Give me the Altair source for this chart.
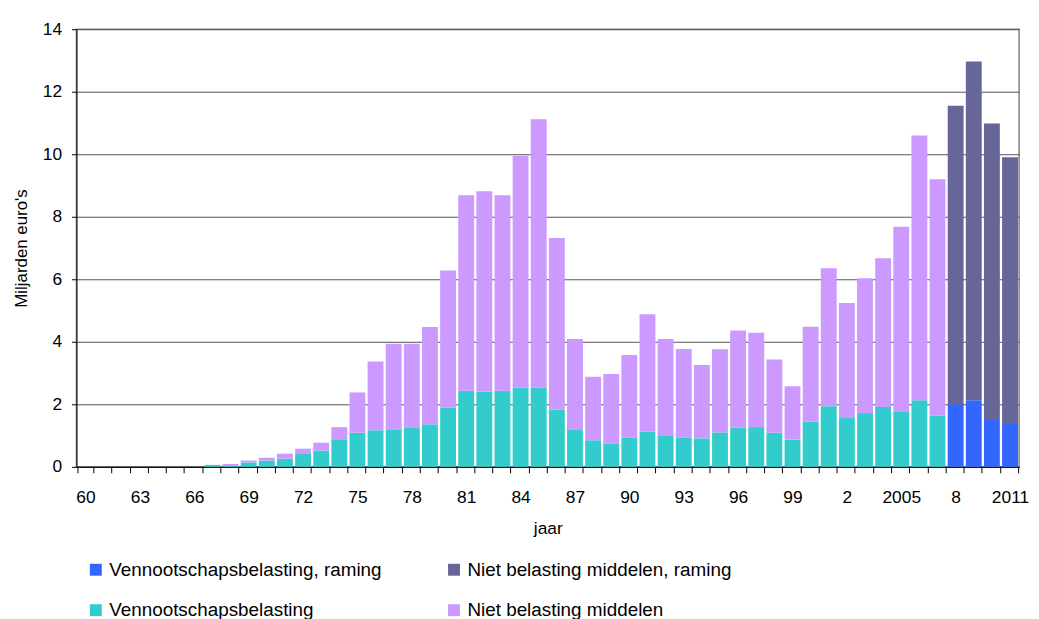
import altair as alt
import pandas as pd

years = list(range(1960, 2012))

# Vennootschapsbelasting (miljarden euro's)
vpb = [0, 0, 0, 0, 0, 0, 0, 0.06, 0.05, 0.14,
       0.20, 0.26, 0.41, 0.52, 0.86, 1.09, 1.17, 1.20, 1.24, 1.36,
       1.90, 2.43, 2.40, 2.43, 2.53, 2.53, 1.83, 1.20, 0.85, 0.75,
       0.94, 1.13, 1.01, 0.94, 0.91, 1.10, 1.25, 1.27, 1.09, 0.87,
       1.44, 1.94, 1.56, 1.72, 1.91, 1.75, 2.13, 1.63, 2.00, 2.13,
       1.50, 1.37]

# Niet belasting middelen (miljarden euro's)
nbm = [0, 0, 0, 0, 0, 0, 0, 0.00, 0.04, 0.06,
       0.09, 0.16, 0.17, 0.25, 0.41, 1.29, 2.20, 2.74, 2.70, 3.11,
       4.38, 6.26, 6.42, 6.26, 7.42, 8.59, 5.49, 2.89, 2.03, 2.22,
       2.64, 3.75, 3.08, 2.83, 2.35, 2.66, 3.11, 3.02, 2.34, 1.71,
       3.04, 4.41, 3.68, 4.31, 4.76, 5.93, 8.47, 7.57, 9.55, 10.84,
       9.48, 8.53]

raming_years = [2008, 2009, 2010, 2011]

# legend order (filled column by column): left column first, then right column
series_names = ["Vennootschapsbelasting, raming",
                "Vennootschapsbelasting",
                "Niet belasting middelen, raming",
                "Niet belasting middelen"]
series_colors = ["#3366FF", "#33CCCC", "#666699", "#CC99FF"]

label_map = {1960: "60", 1963: "63", 1966: "66", 1969: "69", 1972: "72",
             1975: "75", 1978: "78", 1981: "81", 1984: "84", 1987: "87",
             1990: "90", 1993: "93", 1996: "96", 1999: "99", 2002: "2",
             2005: "2005", 2008: "8", 2011: "2011"}
tick_labels = [label_map.get(y, "") for y in years]

y_ticks = [0, 2, 4, 6, 8, 10, 12, 14]

rows = []
for i, yr in enumerate(years):
    est = yr in raming_years
    rows.append({"jaar": yr, "serie": series_names[0] if est else series_names[1],
                 "waarde": vpb[i], "volgorde": 0})
    rows.append({"jaar": yr, "serie": series_names[2] if est else series_names[3],
                 "waarde": nbm[i], "volgorde": 1})
df = pd.DataFrame(rows)

label_expr = "[" + ",".join("'" + l + "'" for l in tick_labels) + "][datum.value - 1960]"

FONT = "Liberation Sans"

chart = alt.Chart(df).mark_bar().encode(
    x=alt.X("jaar:O",
            scale=alt.Scale(paddingInner=0.124, paddingOuter=0.062),
            axis=alt.Axis(title="jaar", labelExpr=label_expr, labelAngle=0,
                          tickBand="extent", tickSize=6, tickColor="#000000",
                          domainColor="#000000", labelPadding=16,
                          labelFontSize=17.5, labelColor="#000000",
                          titleFontSize=17.5, titleFontWeight="normal",
                          titleColor="#000000", titlePadding=14, grid=False)),
    y=alt.Y("waarde:Q", stack="zero",
            scale=alt.Scale(domain=[0, 14], nice=False),
            axis=alt.Axis(title="Miljarden euro's", values=y_ticks, grid=True,
                          gridColor="#555555", gridWidth=1,
                          tickSize=5, tickColor="#000000", domainColor="#000000",
                          labelPadding=10, labelFontSize=17.5, labelColor="#000000",
                          titleFontSize=17, titleFontWeight="normal",
                          titleColor="#000000", titlePadding=12)),
    color=alt.Color("serie:N",
                    scale=alt.Scale(domain=series_names, range=series_colors),
                    legend=alt.Legend(title=None, orient="none", legendX=10, legendY=535,
                                      columns=2, symbolType="square", symbolSize=144,
                                      symbolStrokeWidth=0, labelFontSize=19,
                                      labelColor="#000000", labelOffset=4,
                                      rowPadding=21, columnPadding=63, padding=0,
                                      labelLimit=400)),
    order=alt.Order("volgorde:Q", sort="ascending"),
).properties(
    width=950, height=441,
    autosize=alt.AutoSizeParams(type="none"),
    padding={"left": 69, "top": 19, "right": 12, "bottom": 151},
).configure(
    font=FONT,
).configure_view(
    stroke="#808080", strokeWidth=1.5,
)

chart.save("out.html", embed_options={"renderer": "svg", "actions": False})
